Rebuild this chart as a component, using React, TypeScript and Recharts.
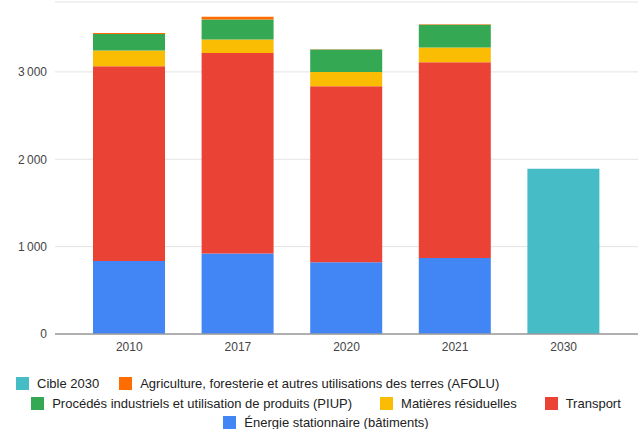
import { BarChart, Bar, XAxis, YAxis, CartesianGrid } from 'recharts';

const categories = ['2010', '2017', '2020', '2021', '2030'];
const energie = [835, 920, 820, 870, 0];
const transport = [2230, 2295, 2015, 2240, 0];
const matieres = [180, 155, 165, 170, 0];
const piup = [190, 230, 255, 260, 0];
const afolu = [10, 30, 5, 5, 0];
const cible = [0, 0, 0, 0, 1890];
const yTicks = [0, 1000, 2000, 3000];

// bottom to top of the stack
const SERIES = [
  { key: 'energie', name: 'Énergie stationnaire (bâtiments)', color: '#4285f4', values: energie },
  { key: 'transport', name: 'Transport', color: '#ea4335', values: transport },
  { key: 'matieres', name: 'Matières résiduelles', color: '#fbbc04', values: matieres },
  { key: 'piup', name: 'Procédés industriels et utilisation de produits (PIUP)', color: '#34a853', values: piup },
  { key: 'afolu', name: 'Agriculture, foresterie et autres utilisations des terres (AFOLU)', color: '#ff6d01', values: afolu },
  { key: 'cible', name: 'Cible 2030', color: '#46bdc6', values: cible },
];

const legendRows = [['cible', 'afolu'], ['piup', 'matieres', 'transport'], ['energie']];

const data = categories.map((year, i) => {
  const row: Record<string, string | number> = { year };
  SERIES.forEach((s) => {
    row[s.key] = s.values[i];
  });
  return row;
});

const FONT = 'Arial, "Liberation Sans", sans-serif';
const fmt = (v: number) => v.toLocaleString('fr-FR').replace(/\s/g, '\u202f');

function LegendBlock() {
  return (
    <div style={{ paddingTop: 14, fontFamily: FONT, fontSize: 13, color: '#222' }}>
      {legendRows.map((row, r) => (
        <div
          key={r}
          style={{
            display: 'flex',
            height: 19.5,
            alignItems: 'center',
            justifyContent: r === 0 ? 'flex-start' : 'center',
            paddingLeft: r === 0 ? 16 : 14,
            gap: r === 1 ? 28 : 20,
          }}
        >
          {row.map((k) => {
            const s = SERIES.find((x) => x.key === k)!;
            return (
              <div key={k} style={{ display: 'flex', alignItems: 'center', whiteSpace: 'nowrap' }}>
                <span style={{ width: 13, height: 13, background: s.color, marginRight: 8, display: 'inline-block' }} />
                {s.name}
              </div>
            );
          })}
        </div>
      ))}
    </div>
  );
}

export default function App() {
  return (
    <div style={{ width: 638, height: 429, background: '#fff', overflow: 'hidden' }}>
      <style>{'body{margin:0}'}</style>
      <BarChart width={638} height={360} data={data} margin={{ top: 2, right: 0, bottom: 0, left: 0 }} barSize={72}>
        <CartesianGrid vertical={false} stroke="#e3e3e3" />
        <XAxis
          dataKey="year"
          height={26}
          tickLine={false}
          axisLine={{ stroke: '#9a9a9a', strokeWidth: 1.5 }}
          padding={{ left: 20, right: 20 }}
          tick={{ fontSize: 12, fill: '#444', fontFamily: FONT }}
        />
        <YAxis
          width={55}
          domain={[0, 3800]}
          ticks={yTicks}
          tickFormatter={fmt}
          tickLine={false}
          axisLine={false}
          tick={{ fontSize: 12, fill: '#444', fontFamily: FONT }}
        />
        {SERIES.map((s) => (
          <Bar key={s.key} dataKey={s.key} name={s.name} stackId="a" fill={s.color} isAnimationActive={false} />
        ))}
      </BarChart>
      <LegendBlock />
    </div>
  );
}
